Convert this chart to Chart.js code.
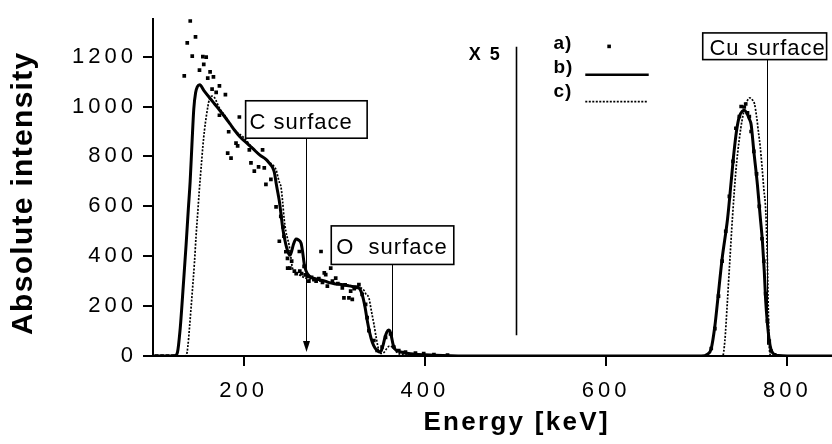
<!DOCTYPE html>
<html><head><meta charset="utf-8">
<script src="https://cdn.jsdelivr.net/npm/chart.js@4/dist/chart.umd.min.js"></script>
<style>html,body{margin:0;padding:0;background:#fff;overflow:hidden;width:832px;height:444px}canvas{display:block}</style>
</head><body>
<canvas id="c" width="882" height="444"></canvas>
<script>
// ---- data ----
const xTicks = [200, 400, 600, 800];
const yTicks = [0, 200, 400, 600, 800, 1000, 1200];

// a) measured points
const energyA = [104,110,116,122,134.5,137.8,141.1,143.3,146.9,151.3,155,156,158.7,160.4,163,165.2,166.7,169.7,173.3,173.3,179.9,182.4,183.5,186.1,191.6,193.4,195.3,206.3,208.1,211.8,216.5,220.9,222.8,224.6,230.1,235.8,239.4,241,243.6,244.5,246.6,248.4,248.6,251,253,256,258,261.5,262,264,266.7,268,270.4,272,275,277.7,280,283,285.4,287,289,290.6,292.4,296.1,298,301.6,304,308.9,310.7,312,316.2,318.1,319.9,322,325,327.2,330.8,334.6,336.3,338.2,343.7,347.3,352.8,356.6,362.1,365.7,371.2,378.6,389.6,398.7,410,425,716,720,724,728,732,736,740,743.2,747,749,752.4,754,756,758,760,763,766,769,772,774,776,778,780,782,786];
const intensityA = [0,0,0,0,1123,1255,1343,1202,1279,1146,1200,1169,1198,1114,1139,1070,1119,1057,1083,965,1048,813,899,793,853,842,958,826,774,741,758,826,754,688,708,598,460,560,517,480,418,391,352,352,380,340,330,419,340,330,359,325,319,300,315,306,300,310,419,295,333,326,280,352,300,312,290,273,233,285,233,260,227,270,275,286,247,207,154,102,62,22,36,75,89,36,22,16,12,10,6,4,30,110,240,380,500,640,780,913,960,1000,998,1010,975,960,900,820,730,600,470,380,250,140,60,20,5];

// b) solid curve
const energyB = [100,120,124,127,130,131.5,133,136.5,139,141,143,145,147,149,151.6,156,162,168,173.6,180,185,190,195.6,203,210,218,225,229,232,234,236,238,239.6,241.5,243.2,245.5,247.6,249.5,251,253,255,257.9,260.5,263.4,265,267,269,272.5,277,283,290,294.5,300,306,312,318,323,327.5,330,332,334,336.5,339,342,345,348,350,352,354,356,358,360,361.5,363,365,367,370,375,380,390,400,420,450,600,705,712,716,720,723,728,734,738,741,744,747,750,752.4,755,758,760,763,767,770,772.5,774.5,776,778,780,782,785,790,800,900];
const intensityB = [0,0,1,15,110,181,260,445,590,700,850,990,1055,1080,1087,1065,1037,1010,985,955,930,905,880,855,832,805,787,770,755,735,690,650,616,560,511,465,432,412,404,420,448,469,465,452,420,366,340,320,312,306,300,294,290,288,284,280,277,272,255,230,195,140,95,55,32,20,16,22,45,75,96,104,100,80,45,28,20,15,11,7,5,2,0,0,0,8,30,120,220,390,550,700,814,905,960,980,985,975,950,928,820,684,560,458,340,225,130,63,25,8,2,0,0];

// c) dotted curve
const energyC = [100,135,137,138.5,140.3,143,145.8,147.5,149.4,151,153.2,155,156.8,159,162.3,165,168,173,180,190,200,210,220,230,234,236,238,240,241.1,243,244.7,246.6,248.5,250.2,252,253.9,257,261.2,265,268.6,275,285,295,305,315,325,330,333,335,338.2,341,343.7,346.5,349.2,352,355,358,361,364,367,370,375,385,400,430,700,728.6,731,733.5,736,739.5,743.3,747,750,753,756,758.5,761,763.7,766,768,770,772,774,776.2,778,779,780,782,900];
const intensityC = [0,0,5,40,115,240,378,480,576,660,760,840,905,965,1030,1042,1035,995,960,905,876,833,800,772,758,745,715,690,681,620,550,500,470,445,400,352,338,326,318,312,306,300,294,290,284,278,272,262,248,233,180,129,70,22,10,15,30,40,36,24,12,6,3,1,0,0,0,60,200,352,560,747,870,945,995,1025,1035,1028,1011,960,900,840,760,670,577,367,180,37,0,0];

// ---- annotations (positioned in data units) ----
const annotBoxes = [
  {label: 'C surface',  x0: 202.2, x1: 336.3, y0: 873,  y1: 1023, tx: 206.6, ty: 909},
  {label: 'O  surface', x0: 296.7, x1: 431.9, y0: 367,  y1: 521.5, tx: 302.2, ty: 407},
  {label: 'Cu surface', x0: 706.6, x1: 843.3, y0: 1188, y1: 1295, tx: 714,   ty: 1208}
];
const annotLines = [
  {x: 269, y0: 873,  y1: 16, arrow: true,  w: 1},
  {x: 364, y0: 367,  y1: 63, arrow: false, w: 1},
  {x: 778, y0: 1188, y1: 45, arrow: false, w: 1},
  {x: 500, y0: 1240, y1: 83, arrow: false, w: 1.6}
];
const legendItems = [
  {label: 'a)', ty: 1232},
  {label: 'b)', ty: 1133},
  {label: 'c)', ty: 1038}
];

const FAM = "'Liberation Sans', Arial, Helvetica, sans-serif";
Chart.defaults.font.family = FAM;
Chart.defaults.color = '#000';

const zip = (xs, ys) => xs.map((v, i) => ({x: v, y: ys[i]}));

function txt(ctx, s, x, y, font, ls, align) {
  ctx.font = font;
  ctx.letterSpacing = ls + 'px';
  ctx.textAlign = 'left';
  ctx.textBaseline = 'alphabetic';
  const w = ctx.measureText(s).width - ls;
  let x0 = x;
  if (align === 'center') x0 = x - w / 2;
  else if (align === 'right') x0 = x - w;
  ctx.fillText(s, x0, y);
}

const TICK_LEN = 10;

const deco = {
  id: 'deco',
  beforeDraw(chart) { chart.ctx.letterSpacing = '4px'; },
  afterDraw(chart) {
    const {ctx, scales: {x, y}} = chart;
    const X = v => x.getPixelForValue(v), Y = v => y.getPixelForValue(v);
    ctx.save();
    ctx.strokeStyle = '#000';
    ctx.fillStyle = '#000';
    // explicit outward tick marks
    ctx.lineWidth = 2;
    ctx.setLineDash([]);
    const ca = chart.chartArea;
    xTicks.forEach(v => {
      const px = Math.round(X(v));
      ctx.beginPath(); ctx.moveTo(px, ca.bottom); ctx.lineTo(px, ca.bottom + TICK_LEN); ctx.stroke();
    });
    yTicks.forEach(v => {
      const py = Math.round(Y(v));
      ctx.beginPath(); ctx.moveTo(ca.left, py); ctx.lineTo(ca.left - TICK_LEN, py); ctx.stroke();
    });
    // lines
    annotLines.forEach(l => {
      ctx.lineWidth = l.w;
      ctx.beginPath();
      const xp = Math.round(X(l.x)) + 0.5;
      ctx.moveTo(xp, Y(l.y0));
      ctx.lineTo(xp, l.arrow ? Y(l.y1) - 8 : Y(l.y1));
      ctx.stroke();
      if (l.arrow) {
        const t = Y(l.y1);
        ctx.beginPath();
        ctx.moveTo(xp, t);
        ctx.lineTo(xp - 3.5, t - 11);
        ctx.lineTo(xp + 3.5, t - 11);
        ctx.closePath();
        ctx.fill();
      }
    });
    // boxes
    annotBoxes.forEach(b => {
      const bx = X(b.x0), by = Y(b.y1), bw = X(b.x1) - X(b.x0), bh = Y(b.y0) - Y(b.y1);
      ctx.fillStyle = '#fff';
      ctx.fillRect(bx, by, bw, bh);
      ctx.fillStyle = '#000';
      ctx.lineWidth = 1.6;
      ctx.strokeRect(bx, by, bw, bh);
      txt(ctx, b.label, X(b.tx), Y(b.ty), '22px ' + FAM, 1, 'left');
    });
    // "X 5"
    txt(ctx, 'X 5', X(448.4), Y(1188), 'bold 18px ' + FAM, 2, 'left');
    // legend
    legendItems.forEach(it => txt(ctx, it.label, X(541.8), Y(it.ty), 'bold 19px ' + FAM, 1, 'left'));
    ctx.fillRect(X(603.3) - 1.8, Y(1241) - 1.8, 3.6, 3.6);
    ctx.lineWidth = 2.5;
    ctx.beginPath(); ctx.moveTo(X(577), Y(1127)); ctx.lineTo(X(647), Y(1127)); ctx.stroke();
    ctx.lineWidth = 1.7;
    ctx.setLineDash([2, 1.5]);
    ctx.beginPath(); ctx.moveTo(X(577), Y(1020)); ctx.lineTo(X(646), Y(1020)); ctx.stroke();
    ctx.setLineDash([]);
    // axis titles
    txt(ctx, 'Energy [keV]', X(500), 430, 'bold 26px ' + FAM, 2.3, 'center');
    ctx.save();
    ctx.translate(32, Y(650));
    ctx.rotate(-Math.PI / 2);
    txt(ctx, 'Absolute intensity', 0, 0, 'bold 30px ' + FAM, 1.3, 'center');
    ctx.restore();
    ctx.restore();
  }
};

const tickFont = {size: 22, family: FAM};
const gridOpts = {display: true, drawOnChartArea: false, drawTicks: true, tickLength: TICK_LEN, color: '#000', lineWidth: 2};

new Chart(document.getElementById('c'), {
  type: 'scatter',
  data: {
    datasets: [
      {label: 'a)', data: zip(energyA, intensityA), showLine: false, pointStyle: 'rect',
       pointRadius: 2.6, pointBorderWidth: 0, pointBackgroundColor: '#000', backgroundColor: '#000'},
      {label: 'b)', data: zip(energyB, intensityB), showLine: true, borderColor: '#000', borderWidth: 3,
       pointRadius: 0, cubicInterpolationMode: 'monotone'},
      {label: 'c)', data: zip(energyC, intensityC), showLine: true, borderColor: '#000', borderWidth: 1.7,
       borderDash: [2, 1.5], pointRadius: 0, cubicInterpolationMode: 'monotone'}
    ]
  },
  options: {
    responsive: false,
    devicePixelRatio: 1,
    animation: false,
    events: [],
    layout: {padding: {top: 14, right: 1, left: 0, bottom: 0}},
    plugins: {legend: {display: false}, tooltip: {enabled: false}},
    scales: {
      x: {
        type: 'linear', min: 100, max: 900,
        afterBuildTicks: s => { s.ticks = xTicks.map(v => ({value: v})); },
        afterFit: s => { s.height = 88; },
        ticks: {font: tickFont, color: '#000', padding: 12, maxRotation: 0, autoSkip: false, callback: v => String(v)},
        grid: gridOpts,
        border: {display: true, color: '#000', width: 2}
      },
      y: {
        type: 'linear', min: 0, max: 1350,
        afterBuildTicks: s => { s.ticks = yTicks.map(v => ({value: v})); },
        afterFit: s => { s.width = 153; },
        ticks: {font: tickFont, color: '#000', padding: 6, autoSkip: false, callback: v => String(v)},
        grid: gridOpts,
        border: {display: true, color: '#000', width: 2}
      }
    }
  },
  plugins: [deco]
});
</script>
</body></html>
